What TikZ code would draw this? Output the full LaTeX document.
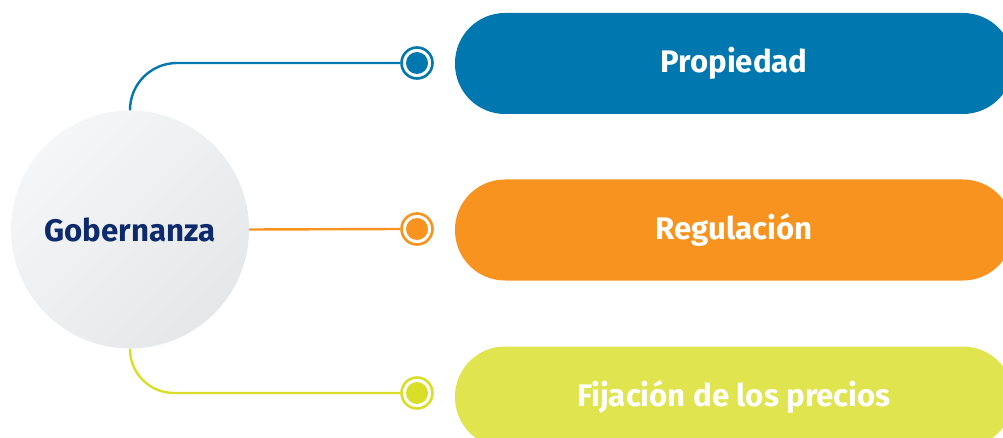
\documentclass[tikz,border=0pt]{standalone}
\usepackage{fontspec}
\setmainfont{Fira Sans}
\definecolor{cblue}{HTML}{0077AE}
\definecolor{corange}{HTML}{F7931E}
\definecolor{cyellow}{HTML}{DFE44F}
\definecolor{cyline}{HTML}{D9DF28}
\definecolor{cnavy}{HTML}{0D2A6C}
\definecolor{cgrayA}{HTML}{F5F6F7}
\definecolor{cgrayB}{HTML}{E5E7E9}
\tikzset{
  pill/.style={rectangle, rounded corners=50pt, minimum width=558pt, minimum height=101pt,
    fill=#1, text=white, font=\fontsize{31.2}{35}\selectfont\bfseries, inner sep=0pt},
  marker/.style={circle, draw=#1, line width=2.6pt, fill=white, minimum size=31pt, inner sep=0pt,
    path picture={\fill[#1] (path picture bounding box.center) circle (11pt);}},
  conn/.style={draw=#1, line width=2.4pt},
}
\begin{document}
\begin{tikzpicture}[x=1pt,y=-1pt]
\useasboundingbox (0,0) rectangle (1003,438);
\clip (0,0) rectangle (1003,438);
% central circle
\node[circle, minimum size=238pt, inner sep=0pt, shading=axis, top color=cgrayA, bottom color=cgrayB,
  shading angle=45, text=cnavy, font=\fontsize{31.2}{35}\selectfont\bfseries] (g) at (130,229.5) {Gobernanza};
% pills
\node[pill=cblue] (p1) at (734,63.5) {Propiedad};
\node[pill=corange] (p2) at (734,230) {Regulación};
\node[pill=cyellow] (p3) at (734,397) {Fijación de los precios};
% markers
\node[marker=cblue] (m1) at (417,63) {};
\node[marker=corange] (m2) at (417,229) {};
\node[marker=cyline] (m3) at (417,393) {};
% connectors
\draw[conn=cblue, rounded corners=47pt] (g.north) |- (m1.west);
\draw[conn=corange] (g.east) -- (m2.west);
\draw[conn=cyline, rounded corners=44pt] (g.south) |- (m3.west);
\end{tikzpicture}
\end{document}
